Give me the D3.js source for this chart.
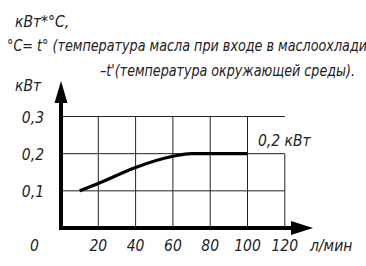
<!DOCTYPE html>
<html>
<head>
<meta charset="utf-8">
<script src="https://cdn.jsdelivr.net/npm/d3@7"></script>
<style>
  body { margin: 0; background: #fff; }
  svg text { font-family: "DejaVu Sans Condensed", "DejaVu Sans", sans-serif; font-stretch: condensed; font-style: italic; fill: #222; font-size: 15.5px; }
</style>
</head>
<body>
<svg width="366" height="266"></svg>
<script>
const flow = [10, 20, 40, 60, 70, 80, 100];          // л/мин
const power = [0.1, 0.12, 0.163, 0.193, 0.2, 0.2, 0.2]; // кВт
const xTicks = [20, 40, 60, 80, 100, 120];
const yTicks = [0.1, 0.2, 0.3];
const headerLines = [
  "кВт*°С,",
  "°С= t° (температура масла при входе в маслоохладитель)",
  "–t'(температура окружающей среды)."
];

const svg = d3.select("svg");
const x = d3.scaleLinear().domain([0, 120]).range([61, 284.8]);
const y = d3.scaleLinear().domain([0, 0.3]).range([228, 116.5]);

// grid
const grid = svg.append("g").attr("stroke", "#222").attr("stroke-width", 1);
yTicks.forEach(v => {
  grid.append("line").attr("x1", x(0)).attr("x2", x(120)).attr("y1", y(v)).attr("y2", y(v));
});
xTicks.forEach(v => {
  grid.append("line").attr("x1", x(v)).attr("x2", x(v))
    .attr("y1", v == 120 ? y(0.2) : y(0.3)).attr("y2", y(0));
});

// curve
const line = d3.line().x((d, i) => x(flow[i])).y(d => y(d)).curve(d3.curveMonotoneX);
svg.append("path").datum(power).attr("d", line)
  .attr("fill", "none").attr("stroke", "#000").attr("stroke-width", 3.2);

// axes with arrows
svg.append("line").attr("x1", x(0)).attr("x2", 294).attr("y1", y(0)).attr("y2", y(0))
  .attr("stroke", "#000").attr("stroke-width", 4);
svg.append("path").attr("d", `M313,${y(0)} L291,${y(0) - 7} L291,${y(0) + 7} Z`).attr("fill", "#000");
svg.append("line").attr("x1", x(0)).attr("x2", x(0)).attr("y1", y(0) + 2).attr("y2", 100)
  .attr("stroke", "#000").attr("stroke-width", 4);
svg.append("path").attr("d", `M${x(0)},81 L${x(0) - 6.5},103 L${x(0) + 6.5},103 Z`).attr("fill", "#000");

// tick labels
svg.selectAll(".xt").data(xTicks).enter().append("text")
  .attr("x", d => x(d)).attr("y", 251).attr("text-anchor", "middle").text(d => d);
svg.selectAll(".yt").data(yTicks).enter().append("text")
  .attr("x", 44).attr("y", d => y(d) + 6).attr("text-anchor", "end")
  .text(d => d3.format(".1f")(d).replace(".", ","));
svg.append("text").attr("x", 30).attr("y", 251).text("0");
svg.append("text").attr("x", 310).attr("y", 251).text("л/мин");
svg.append("text").attr("x", 15).attr("y", 91).text("кВт");
svg.append("text").attr("x", 258).attr("y", 146).text("0,2 кВт");

// header (squeezed to the reference's narrow drafting font)
svg.append("text").attr("x", 15).attr("y", 27).text(headerLines[0]);
svg.append("text").attr("x", 7).attr("y", 51)
  .attr("textLength", 396).attr("lengthAdjust", "spacingAndGlyphs").text(headerLines[1]);
svg.append("text").attr("x", 100).attr("y", 76)
  .attr("textLength", 255).attr("lengthAdjust", "spacingAndGlyphs").text(headerLines[2]);
</script>
</body>
</html>
